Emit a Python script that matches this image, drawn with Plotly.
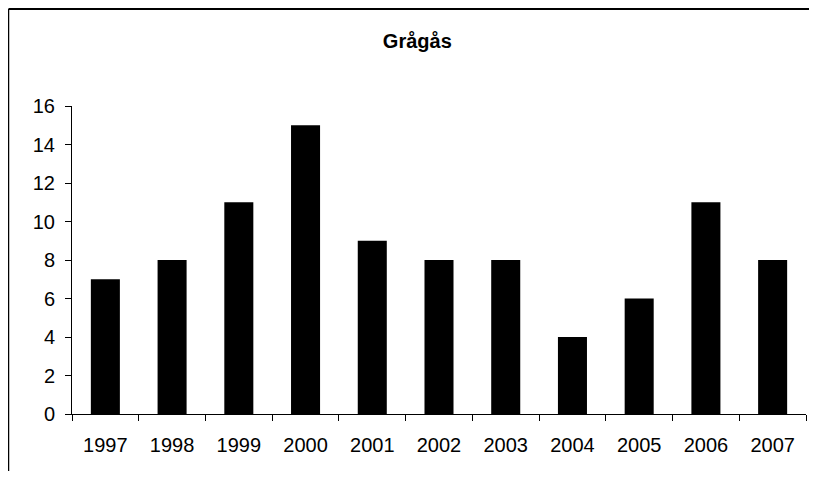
import plotly.graph_objects as go

#
# Data
#
years = ['1997', '1998', '1999', '2000', '2001', '2002', '2003', '2004', '2005', '2006', '2007']
counts = [7, 8, 11, 15, 9, 8, 8, 4, 6, 11, 8]

#
# Figure (page has an 8px body margin, so the figure is sized to fit inside)
#
fig = go.Figure(go.Bar(x=years, y=counts, marker_color='black', marker_line_width=0))

fig.update_layout(
    width=801, height=463,
    margin=dict(l=64, r=3, t=98, b=57),
    paper_bgcolor='white', plot_bgcolor='white',
    font=dict(family='Liberation Sans, Arial', size=20, color='black'),
    title=dict(text='<b>Grågås</b>', x=0.511, xanchor='center', y=0.929, yanchor='middle',
               yref='container', font=dict(size=20)),
    bargap=0.565,
    showlegend=False,
)
fig.update_xaxes(type='category', showline=True, linecolor='black', linewidth=1,
                 ticks='outside', tickson='boundaries', ticklen=6, tickcolor='black',
                 ticklabelstandoff=13, showgrid=False)
fig.update_yaxes(range=[0, 16], dtick=2, showline=True, linecolor='black', linewidth=1,
                 ticks='outside', ticklen=6, tickcolor='black', ticklabelstandoff=6,
                 showgrid=False, zeroline=False)

# chart frame (top and left edges)
frame_top = 1 + 97 / 308
frame_left = -63.5 / 734
fig.add_shape(type='line', xref='paper', yref='paper', x0=frame_left, x1=1.01, y0=frame_top, y1=frame_top,
              line=dict(color='black', width=2))
fig.add_shape(type='line', xref='paper', yref='paper', x0=frame_left, x1=frame_left, y0=frame_top, y1=-0.2,
              line=dict(color='black', width=1.5))

fig.write_html("out.html")
